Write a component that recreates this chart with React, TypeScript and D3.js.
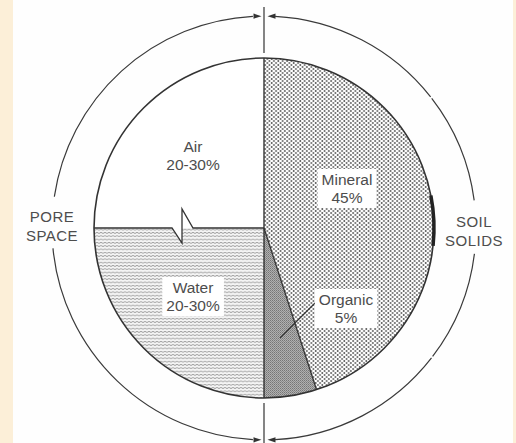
import React, { useEffect, useRef } from "react";
import * as d3 from "d3";

// ---- data ----
const categories = ["Mineral", "Organic", "Water", "Air"];
const values = [45, 5, 25, 25];
const valueLabels = ["45%", "5%", "20-30%", "20-30%"];
const groupNames = [["SOIL", "SOLIDS"], ["PORE", "SPACE"]];

// ---- layout ----
const W = 516;
const H = 443;
const CX = 264;
const CY = 228;
const R = 170;
const RO = 212;
const FONT = "'Liberation Sans', Arial, Helvetica, sans-serif";
const INK = "#333";
const TXT = "#4d4d4d";
// label anchor offsets from centre (layout only)
const labelPos: Record<string, [number, number]> = {
  Mineral: [83, -43],
  Organic: [82, 77],
  Water: [-71, 65],
  Air: [-71, -76],
};

export default function App() {
  const ref = useRef<SVGSVGElement>(null);

  useEffect(() => {
    const svg = d3.select(ref.current);
    svg.selectAll("*").remove();

    const defs = svg.append("defs");
    // mineral dots
    const pm = defs.append("pattern").attr("id", "pMin").attr("patternUnits", "userSpaceOnUse")
      .attr("width", 4.4).attr("height", 4);
    pm.append("rect").attr("width", 4.4).attr("height", 4).attr("fill", "#fff");
    pm.append("circle").attr("cx", 1.1).attr("cy", 1).attr("r", 0.95).attr("fill", "#5a5a5a");
    pm.append("circle").attr("cx", 3.3).attr("cy", 3).attr("r", 0.95).attr("fill", "#5a5a5a");
    // organic dense texture
    const po = defs.append("pattern").attr("id", "pOrg").attr("patternUnits", "userSpaceOnUse")
      .attr("width", 2).attr("height", 2);
    po.append("rect").attr("width", 2).attr("height", 2).attr("fill", "#b0b0b0");
    po.append("rect").attr("width", 1).attr("height", 1).attr("fill", "#767676");
    po.append("rect").attr("x", 1).attr("y", 1).attr("width", 1).attr("height", 1).attr("fill", "#8a8a8a");
    // water wavy lines
    const pw = defs.append("pattern").attr("id", "pWat").attr("patternUnits", "userSpaceOnUse")
      .attr("width", 4).attr("height", 3.3);
    pw.append("rect").attr("width", 4).attr("height", 3.3).attr("fill", "#f4f4f4");
    pw.append("path").attr("d", "M0,1.6 q1,-0.9 2,0 t2,0").attr("fill", "none")
      .attr("stroke", "#7a7a7a").attr("stroke-width", 0.75);

    // background
    svg.append("rect").attr("width", W).attr("height", H).attr("fill", "#fefefe");
    svg.append("rect").attr("width", 13).attr("height", H).attr("fill", "#fcefd8");
    svg.append("rect").attr("x", 513).attr("width", 3).attr("height", H).attr("fill", "#fcefd8");

    const g = svg.append("g").attr("transform", `translate(${CX},${CY})`);

    const pie = d3.pie<number>().sort(null).value((d) => d);
    const arcs = pie(values);
    const arcGen = d3.arc<d3.PieArcDatum<number>>().innerRadius(0).outerRadius(R);

    const fills: Record<string, string> = {
      Mineral: "url(#pMin)",
      Organic: "url(#pOrg)",
      Water: "url(#pWat)",
      Air: "#fff",
    };

    // notch (water surface break symbol), relative to centre
    const notch: [number, number][] = [[-92, 0], [-82, 15], [-82, -19], [-71, 0]];

    arcs.forEach((a, i) => {
      const name = categories[i];
      if (name === "Water") {
        const p = d3.path();
        p.moveTo(0, 0);
        const s = a.startAngle - Math.PI / 2;
        const e = a.endAngle - Math.PI / 2;
        p.lineTo(R * Math.cos(s), R * Math.sin(s));
        p.arc(0, 0, R, s, e, false);
        notch.forEach(([x, y]) => p.lineTo(x, y));
        p.closePath();
        g.append("path").attr("d", p.toString()).attr("fill", fills[name]);
      } else {
        g.append("path").attr("d", arcGen(a) as string).attr("fill", fills[name]);
      }
    });

    // outlines
    g.append("circle").attr("r", R).attr("fill", "none").attr("stroke", INK).attr("stroke-width", 1.6);
    // thick scan edge on right
    const thick = d3.arc()({ innerRadius: R, outerRadius: R, startAngle: (79 * Math.PI) / 180, endAngle: (96 * Math.PI) / 180 } as any);
    g.append("path").attr("d", thick as string).attr("fill", "none").attr("stroke", "#222").attr("stroke-width", 3.5);

    // vertical diameter
    g.append("line").attr("x1", 0).attr("x2", 0).attr("y1", -R).attr("y2", R)
      .attr("stroke", INK).attr("stroke-width", 1.4);
    // water surface line with notch
    const surf = d3.line()([[-R, 0], ...notch, [0, 0]] as [number, number][]);
    g.append("path").attr("d", surf as string).attr("fill", "none").attr("stroke", INK).attr("stroke-width", 1.3);
    // organic/mineral divider
    const orgStart = arcs[1].startAngle;
    g.append("line").attr("x1", 0).attr("y1", 0)
      .attr("x2", R * Math.sin(orgStart)).attr("y2", -R * Math.cos(orgStart))
      .attr("stroke", INK).attr("stroke-width", 1.3);

    // central axis outside the pie
    g.append("line").attr("x1", 0).attr("x2", 0).attr("y1", -CY + 7).attr("y2", -R - 5)
      .attr("stroke", INK).attr("stroke-width", 1.2);
    g.append("line").attr("x1", 0).attr("x2", 0).attr("y1", R + 5).attr("y2", H - CY)
      .attr("stroke", INK).attr("stroke-width", 1.2);

    // outer bracket arcs
    const deg = (d: number) => (d * Math.PI) / 180;
    const outerArc = (a0: number, a1: number) =>
      d3.arc()({ innerRadius: RO, outerRadius: RO, startAngle: deg(a0), endAngle: deg(a1) } as any) as string;
    const segs: [number, number][] = [
      [3, 51.8], [52.3, 82.5], [97, 127.3], [127.8, 177],
      [183, 264.5], [278.5, 357],
    ];
    segs.forEach(([a0, a1]) => {
      g.append("path").attr("d", outerArc(a0, a1)).attr("fill", "none")
        .attr("stroke", "#3a3a3a").attr("stroke-width", 1.2);
    });
    // arrowheads pointing to the axis
    const arrow = (tipX: number, y: number, dir: number) => {
      const len = 8, hw = 2.6;
      g.append("path")
        .attr("d", `M${tipX},${y} L${tipX - dir * len},${y - hw} L${tipX - dir * len},${y + hw} Z`)
        .attr("fill", "#333");
    };
    const yTop = -RO * Math.cos(deg(2));
    arrow(-2.5, yTop, 1);
    arrow(3.5, yTop, -1);
    arrow(-2.5, -yTop, 1);
    arrow(3.5, -yTop, -1);

    // organic pointer
    g.append("line").attr("x1", 51).attr("y1", 75).attr("x2", 16).attr("y2", 110)
      .attr("stroke", INK).attr("stroke-width", 1.1);

    // slice labels
    categories.forEach((name, i) => {
      const [x, y] = labelPos[name];
      const tg = g.append("g");
      const bg = tg.append("rect").attr("fill", name === "Air" ? "none" : "#fff");
      const t1 = tg.append("text").attr("x", x).attr("y", y).text(name);
      const t2 = tg.append("text").attr("x", x).attr("y", y + 18).text(valueLabels[i]);
      [t1, t2].forEach((t) =>
        t.attr("text-anchor", "middle").attr("font-family", FONT).attr("font-size", 15.5).attr("fill", TXT)
      );
      const b = (tg.node() as SVGGElement).getBBox();
      bg.attr("x", b.x - 4).attr("y", b.y - 2).attr("width", b.width + 8).attr("height", b.height + 4);
    });

    // group labels
    const groupPos: [number, number][] = [[474 - CX, 227 - CY], [52 - CX, 222 - CY]];
    groupNames.forEach((lines, i) => {
      const [x, y] = groupPos[i];
      lines.forEach((l, j) => {
        g.append("text").attr("x", x).attr("y", y + j * 18.5).text(l)
          .attr("text-anchor", "middle").attr("font-family", FONT).attr("font-size", 15)
          .attr("fill", TXT).attr("letter-spacing", 0.5);
      });
    });
  }, []);

  return (
    <svg
      ref={ref}
      width={W}
      height={H}
      style={{ position: "absolute", left: 0, top: 0, display: "block" }}
    />
  );
}
